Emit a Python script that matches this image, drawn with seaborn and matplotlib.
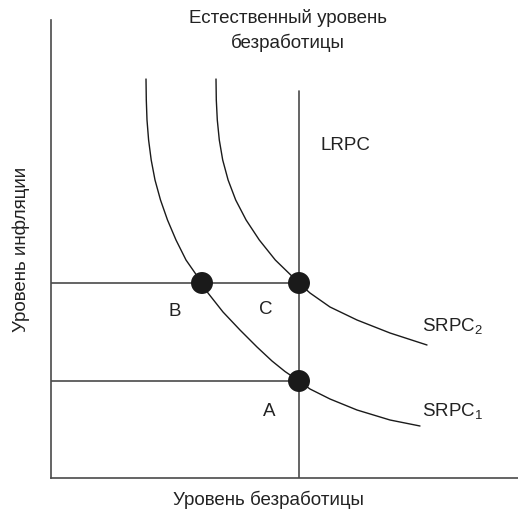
import pandas as pd
import seaborn as sns
import matplotlib.pyplot as plt

# кривые Филлипса (точки, условные единицы)
srpc1_x = [95, 95.3, 96, 97.6, 100.2, 104, 109.5, 116.5, 125, 135, 151, 157, 172, 189, 206, 221, 234, 248, 259, 279, 306, 339, 369]
srpc1_y = [399, 378, 358, 338, 318, 298, 278, 258, 238, 218, 195, 185, 166, 148, 131, 117, 106.5, 97, 89, 79, 68, 58, 52]

srpc2_x = [165, 165.3, 166.3, 168.3, 171.7, 177.1, 184.7, 195.1, 208.3, 224.3, 248, 259, 279, 306, 339, 376]
srpc2_y = [399, 378, 358, 338, 318, 298, 278, 258, 238, 218, 195, 185, 171, 158, 145, 133]

# естественный уровень безработицы и уровни инфляции
lrpc_x = 248
lrpc_top = 387
infl_high = 195
infl_low = 97

# точки равновесия
pt_names = ['B', 'C', 'A']
pt_x = [151, 248, 248]
pt_y = [195, 195, 97]

sns.set_style('white')
plt.rcParams['font.family'] = ['Liberation Sans', 'DejaVu Sans']
plt.rcParams['mathtext.fontset'] = 'custom'
plt.rcParams['mathtext.rm'] = 'Liberation Sans'

fig = plt.figure(figsize=(5.18, 5.14), dpi=100)
ax = fig.add_axes([51 / 518, 36 / 514, 467 / 518, 458 / 514])

line_c = '#1a1a1a'
grid_c = '#4a4a4a'

s1 = pd.DataFrame({'x': srpc1_x, 'y': srpc1_y})
s2 = pd.DataFrame({'x': srpc2_x, 'y': srpc2_y})
for d in (s1, s2):
    sns.lineplot(data=d, x='x', y='y', sort=False, estimator=None, color=line_c,
                 lw=1.0, solid_joinstyle='round', ax=ax)

# LRPC и горизонтальные уровни
ax.plot([lrpc_x, lrpc_x], [0, lrpc_top], color=grid_c, lw=1.2)
ax.plot([0, lrpc_x], [infl_high, infl_high], color=grid_c, lw=1.2)
ax.plot([0, lrpc_x], [infl_low, infl_low], color=grid_c, lw=1.2)

pts = pd.DataFrame({'x': pt_x, 'y': pt_y, 'name': pt_names})
sns.scatterplot(data=pts, x='x', y='y', s=250, color=line_c, edgecolor='none', zorder=5, ax=ax)

ax.set_xlim(0, 467)
ax.set_ylim(0, 458)
ax.set_xticks([])
ax.set_yticks([])
ax.set_xlabel('')
ax.set_ylabel('')
for side in ['top', 'right']:
    ax.spines[side].set_visible(False)
for side in ['left', 'bottom']:
    ax.spines[side].set_color(grid_c)
    ax.spines[side].set_linewidth(1.2)

fs = 13.5
tc = '#222222'
ax.text(237, 460, 'Естественный уровень', ha='center', va='center', fontsize=fs, color=tc, clip_on=False)
ax.text(237, 435, 'безработицы', ha='center', va='center', fontsize=fs, color=tc, clip_on=False)
ax.text(269, 333, 'LRPC', ha='left', va='center', fontsize=fs, color=tc)
ax.text(124, 167, 'B', ha='center', va='center', fontsize=fs, color=tc)
ax.text(215, 168, 'C', ha='center', va='center', fontsize=fs, color=tc)
ax.text(218, 66, 'A', ha='center', va='center', fontsize=fs, color=tc)
ax.text(371, 151, r'SRPC$_\mathrm{2}$', ha='left', va='center', fontsize=fs, color=tc)
ax.text(371, 66, r'SRPC$_\mathrm{1}$', ha='left', va='center', fontsize=fs, color=tc)
ax.text(-30, 229, 'Уровень инфляции', ha='center', va='center', rotation=90, fontsize=fs, color=tc, clip_on=False)
ax.text(217, -22, 'Уровень безработицы', ha='center', va='center', fontsize=fs, color=tc, clip_on=False)

plt.savefig('out.png', dpi=100)
